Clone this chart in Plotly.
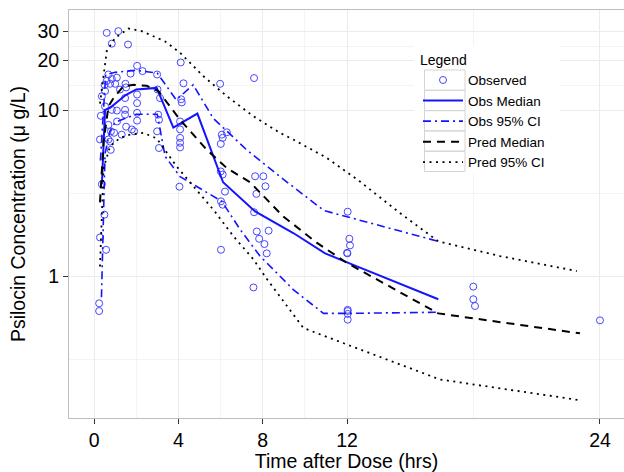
import plotly.graph_objects as go

# Observed data (time in hrs, concentration in ug/L)
obs_time = [0.6, 1.15, 0.84, 1.61, 2.04, 1.73, 2.3, 2.99, 0.68, 0.84, 1.08, 0.6, 0.76, 1.0, 1.49, 1.52,
            0.5, 0.52, 0.37, 3.01, 2.04, 1.23, 1.47, 2.04, 0.52, 0.84, 1.08, 1.47, 1.47, 2.04, 0.32, 3.04,
            2.04, 1.09, 0.68, 3.08, 1.52, 1.79, 1.9, 0.8, 0.95, 1.31, 2.99, 0.28, 0.68, 0.76, 0.79, 3.08,
            0.37, 0.49, 0.28, 0.57, 0.24, 0.24, 3.13,
            4.11, 4.24, 4.13, 4.16, 4.08, 4.08, 4.08, 4.08, 4.08, 4.05,
            5.98, 6.3, 6.06, 6.1, 6.01, 6.01, 6.1, 6.21, 6.02, 6.1, 6.02,
            7.59, 7.64, 8.03, 8.13, 7.7, 7.59, 8.28, 7.72, 7.83, 8.08, 8.19, 7.56,
            12.03, 12.11, 12.14, 12.02, 12.0, 12.03, 12.03, 12.03, 12.03,
            17.99, 17.99, 18.07, 24.0]
obs_conc = [29.4, 30.1, 25.3, 25.0, 18.6, 16.7, 17.3, 16.5, 16.5, 15.5, 15.8, 15.1, 14.5, 14.5, 14.5, 13.8,
            14.3, 13.1, 12.2, 13.4, 12.5, 13.4, 11.9, 11.1, 10.6, 10.1, 10.0, 10.1, 9.45, 9.7, 9.3, 9.45,
            8.7, 8.6, 8.2, 8.8, 8.0, 7.7, 7.5, 7.5, 7.35, 7.16, 7.5, 6.7, 6.7, 6.5, 5.8, 5.95,
            3.6, 2.36, 1.72, 1.45, 0.69, 0.62, 11.9,
            19.5, 14.6, 11.7, 11.2, 8.6, 7.7, 6.85, 6.4, 6.0, 3.48,
            14.5, 7.4, 7.16, 6.85, 6.3, 4.3, 4.12, 3.25, 2.84, 2.71, 1.45,
            15.7, 4.02, 4.02, 3.5, 3.15, 2.44, 1.89, 1.87, 1.69, 1.57, 1.38, 0.86,
            2.46, 1.69, 1.54, 1.38, 1.39, 0.63, 0.62, 0.596, 0.55,
            0.87, 0.73, 0.665, 0.545]

# Observed median and 95% CI
obs_med_t = [0.37, 0.52, 0.76, 1.08, 1.5, 2.0, 2.97, 3.76, 4.9, 6.12, 7.64, 9.45, 10.96, 12.06, 16.33]
obs_med_c = [3.6, 10.1, 10.4, 11.2, 12.4, 13.4, 13.7, 7.9, 9.6, 3.7, 2.47, 1.83, 1.38, 1.21, 0.73]

obs_hi_t = [0.3, 0.55, 1.0, 2.0, 3.0, 3.9, 4.7, 5.65, 7.24, 8.82, 10.9, 16.33]
obs_hi_c = [5.0, 16.5, 17.0, 17.5, 16.8, 11.6, 14.3, 9.0, 5.8, 4.0, 2.5, 1.63]

obs_lo_t = [0.35, 0.52, 0.75, 1.0, 1.5, 2.0, 3.0, 3.37, 4.08, 6.06, 6.93, 7.87, 9.45, 10.88, 12.06, 16.41]
obs_lo_c = [0.75, 5.5, 7.5, 8.5, 9.0, 9.5, 9.5, 5.3, 4.0, 2.84, 1.92, 1.33, 0.835, 0.6, 0.6, 0.61]

# Predicted median and 95% CI
pred_med_t = [0.28, 0.45, 0.68, 0.92, 1.39, 1.86, 2.5, 3.05, 4.08, 5.35, 6.3, 7.4, 8.98, 10.56, 11.99, 16.33, 23.05]
pred_med_c = [2.8, 6.5, 10.6, 11.9, 14.0, 14.3, 14.1, 13.1, 8.8, 5.8, 4.5, 3.7, 2.3, 1.6, 1.21, 0.6, 0.455]

pred_hi_t = [0.28, 0.6, 1.0, 1.63, 2.26, 2.89, 3.37, 4.08, 5.19, 6.3, 7.56, 8.82, 9.45, 11.04, 12.6, 14.5, 16.33, 19.26, 22.9]
pred_hi_c = [11.0, 22.8, 27.4, 31.2, 30.1, 27.7, 26.1, 22.3, 16.1, 12.2, 9.24, 7.34, 6.69, 5.19, 3.75, 2.42, 1.63, 1.33, 1.08]

pred_lo_t = [0.28, 0.45, 0.76, 1.23, 1.71, 2.34, 2.97, 3.92, 4.71, 5.66, 6.61, 7.56, 8.19, 9.3, 9.93, 11.99, 16.41, 23.05]
pred_lo_c = [1.15, 4.5, 6.1, 6.85, 7.17, 7.34, 6.8, 4.6, 3.5, 2.53, 1.75, 1.27, 0.97, 0.63, 0.49, 0.39, 0.24, 0.18]

x_ticks = [0, 4, 8, 12, 24]
x_minor = [2, 6, 10, 18]
y_ticks = [1, 10, 20, 30]
y_minor = [0.316, 3.162, 14.14, 24.49]

BLUE = "rgb(20,20,255)"
MARK = "rgb(70,70,255)"

# layout geometry (pixels) used to place legend decorations
W, H = 624, 472
ML, MR, MT, MB = 69, 0, 10, 54
PW, PH = W - ML - MR, H - MT - MB


def px(xp):
    return (xp - ML) / PW


def py(yp):
    return (H - MB - yp) / PH


fig = go.Figure()

fig.add_trace(go.Scatter(x=obs_time, y=obs_conc, mode="markers", name="Observed",
                         marker=dict(symbol="circle-open", size=7, color=MARK, line=dict(width=1))))
fig.add_trace(go.Scatter(x=obs_med_t, y=obs_med_c, mode="lines", name="Obs Median",
                         line=dict(color=BLUE, width=2)))
fig.add_trace(go.Scatter(x=obs_hi_t, y=obs_hi_c, mode="lines", name="Obs 95% CI", legendgroup="obsci",
                         line=dict(color=BLUE, width=1.6, dash="8px,4px,2px,4px")))
fig.add_trace(go.Scatter(x=obs_lo_t, y=obs_lo_c, mode="lines", name="Obs 95% CI", legendgroup="obsci",
                         showlegend=False, line=dict(color=BLUE, width=1.6, dash="8px,4px,2px,4px")))
fig.add_trace(go.Scatter(x=pred_med_t, y=pred_med_c, mode="lines", name="Pred Median",
                         line=dict(color="black", width=2, dash="8px,6px")))
fig.add_trace(go.Scatter(x=pred_hi_t, y=pred_hi_c, mode="lines", name="Pred 95% CI", legendgroup="predci",
                         line=dict(color="black", width=1.8, dash="2px,4.5px")))
fig.add_trace(go.Scatter(x=pred_lo_t, y=pred_lo_c, mode="lines", name="Pred 95% CI", legendgroup="predci",
                         showlegend=False, line=dict(color="black", width=1.8, dash="2px,4.5px")))

axis_common = dict(showline=True, linecolor="#bdbdbd", mirror=True, ticks="outside", ticklen=5,
                   tickcolor="#333333", gridcolor="#ebebeb", zeroline=False,
                   tickfont=dict(size=19.5, color="black"))

fig.update_xaxes(range=[-1.19, 25.14], tickmode="array", tickvals=x_ticks,
                 title=dict(text="Time after Dose (hrs)", font=dict(size=19.5, color="black"), standoff=6),
                 minor=dict(tickvals=x_minor, showgrid=True, gridcolor="#f4f4f4", ticks=""),
                 automargin=False, **axis_common)
fig.update_yaxes(type="log", range=[-0.852, 1.606], tickmode="array", tickvals=y_ticks,
                 ticktext=[str(v) for v in y_ticks],
                 title=dict(text="Psilocin Concentration (\u03bc g/L)", font=dict(size=19.5, color="black"), standoff=6),
                 minor=dict(tickvals=y_minor, showgrid=True, gridcolor="#f4f4f4", ticks=""),
                 automargin=False, **axis_common)

# legend background and key boxes (ggplot-style legend keys)
shapes = [dict(type="rect", xref="paper", yref="paper", layer="above",
               x0=px(414), x1=px(560), y0=py(174), y1=py(46),
               fillcolor="white", line=dict(width=0))]
row_top = 70.0
row_h = 20.3
for i in range(5):
    shapes.append(dict(type="rect", xref="paper", yref="paper", layer="above",
                       x0=px(424.5), x1=px(465), y0=py(row_top + (i + 1) * row_h), y1=py(row_top + i * row_h),
                       fillcolor="rgba(0,0,0,0)", line=dict(color="#d4d4d4", width=1)))

fig.update_layout(
    width=W, height=H,
    margin=dict(l=ML, r=MR, t=MT, b=MB),
    paper_bgcolor="white", plot_bgcolor="white",
    font=dict(family="Liberation Sans, Arial, sans-serif", color="black"),
    shapes=shapes,
    legend=dict(title=dict(text="Legend", font=dict(size=14)), font=dict(size=13.5),
                x=px(418), y=py(46.5), xanchor="left", yanchor="top", bgcolor="rgba(0,0,0,0)",
                tracegroupgap=0, itemwidth=40),
)

fig.write_html("out.html", config={"displayModeBar": False},
               post_script="document.body.style.margin='0';")
